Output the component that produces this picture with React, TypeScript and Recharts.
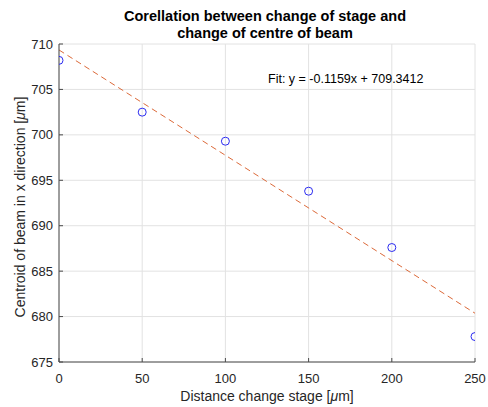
import { ComposedChart, Scatter, Line, XAxis, YAxis, CartesianGrid, Customized } from 'recharts';

const stageDistance = [0, 50, 100, 150, 200, 250];
const beamCentroid = [708.2, 702.5, 699.3, 693.8, 687.6, 677.8];
const fitX = [0, 250];
const fitY = [709.3412, 680.3662];
const xTicks = [0, 50, 100, 150, 200, 250];
const yTicks = [675, 680, 685, 690, 695, 700, 705, 710];

const points = stageDistance.map((x, i) => ({ x, y: beamCentroid[i] }));
const fitLine = fitX.map((x, i) => ({ x, y: fitY[i] }));

const FONT = '"Liberation Sans", Arial, Helvetica, sans-serif';
const AXIS = '#4a4a4a';
const TEXT = '#262626';

const XTick = (props: any) => {
  const { x, y, payload } = props;
  return (
    <g>
      <line x1={x} y1={y} x2={x} y2={y - 4} stroke={AXIS} />
      <text x={x} y={y + 21} textAnchor="middle" fontSize={13} fill={TEXT} fontFamily={FONT}>
        {payload.value}
      </text>
    </g>
  );
};

const YTick = (props: any) => {
  const { x, y, payload } = props;
  return (
    <g>
      <line x1={x} y1={y} x2={x + 4} y2={y} stroke={AXIS} />
      <text x={x - 6} y={y + 4.5} textAnchor="end" fontSize={13} fill={TEXT} fontFamily={FONT}>
        {payload.value}
      </text>
    </g>
  );
};

const Circle = (props: any) => (
  <circle cx={props.cx} cy={props.cy} r={4} fill="none" stroke="#2b2bf0" strokeWidth={1} />
);

const Annotations = () => (
  <g fontFamily={FONT}>
    <text x={265} y={20.5} textAnchor="middle" fontSize={14.5} fontWeight="bold" fill="#000">
      Corellation between change of stage and
    </text>
    <text x={265} y={38} textAnchor="middle" fontSize={14.5} fontWeight="bold" fill="#000">
      change of centre of beam
    </text>
    <text x={268} y={82.5} fontSize={12.5} fill="#000">
      Fit: y = -0.1159x + 709.3412
    </text>
    <text x={267} y={401} textAnchor="middle" fontSize={14} fill={TEXT}>
      Distance change stage [<tspan fontStyle="italic">μ</tspan>m]
    </text>
    <text
      x={25}
      y={207}
      textAnchor="middle"
      fontSize={14}
      fill={TEXT}
      transform="rotate(-90 25 207)"
    >
      Centroid of beam in x direction [<tspan fontStyle="italic">μ</tspan>m]
    </text>
  </g>
);

export default function App() {
  return (
    <div style={{ position: 'absolute', left: 0, top: 0, background: '#fff' }}>
      <ComposedChart width={488} height={407} margin={{ top: 44, right: 13, left: 0, bottom: 0 }}>
        <CartesianGrid stroke="#e2e2e2" horizontal vertical />
        <XAxis
          type="number"
          dataKey="x"
          domain={[0, 250]}
          ticks={xTicks}
          height={45}
          tickSize={0}
          tickMargin={0}
          stroke={AXIS}
          tick={<XTick />}
          allowDataOverflow
        />
        <YAxis
          type="number"
          dataKey="y"
          domain={[675, 710]}
          ticks={yTicks}
          width={59}
          tickSize={0}
          tickMargin={0}
          stroke={AXIS}
          tick={<YTick />}
          allowDataOverflow
        />
        <Line
          data={fitLine}
          dataKey="y"
          type="linear"
          stroke="#dc6a3a"
          strokeWidth={1}
          strokeDasharray="6 4"
          dot={false}
          activeDot={false}
          isAnimationActive={false}
        />
        <Scatter data={points} dataKey="y" shape={<Circle />} isAnimationActive={false} />
        <Customized component={Annotations} />
      </ComposedChart>
    </div>
  );
}
